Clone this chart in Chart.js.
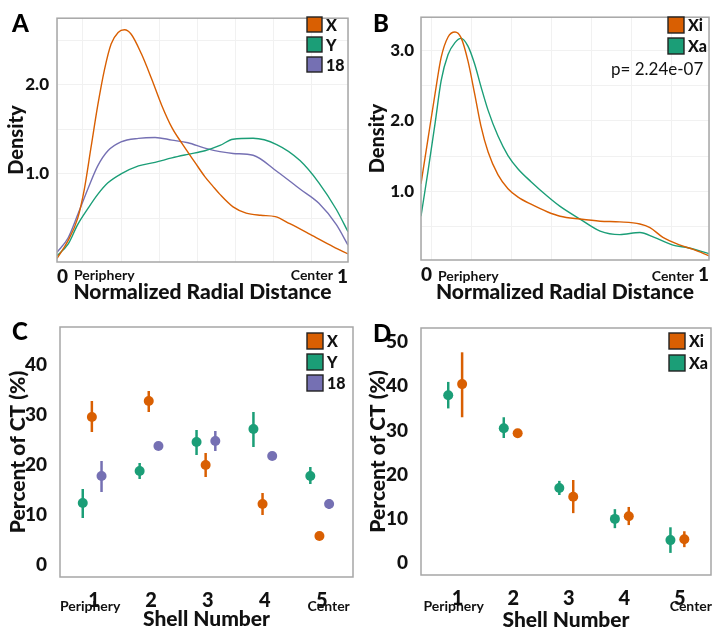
<!DOCTYPE html>
<html>
<head>
<meta charset="utf-8">
<script src="https://cdn.jsdelivr.net/npm/chart.js@4.4.1/dist/chart.umd.min.js"></script>
<style>
  body { margin: 0; background: #fff; }
  #fig { position: relative; width: 722px; height: 635px; overflow: hidden; font-family: Lato, sans-serif; }
  #fig canvas { position: absolute; }
  .tag { position: absolute; font-weight: 900; font-size: 24px; line-height: 24px; color: #000; }
</style>
</head>
<body>
<div id="fig">
  <canvas id="chartA" width="361" height="310" style="left:0;top:0"></canvas>
  <canvas id="chartB" width="361" height="310" style="left:361px;top:0"></canvas>
  <canvas id="chartC" width="361" height="325" style="left:0;top:310px"></canvas>
  <canvas id="chartD" width="361" height="325" style="left:361px;top:310px"></canvas>
  <div class="tag" style="left:12px;top:11px">A</div>
  <div class="tag" style="left:373px;top:11px">B</div>
  <div class="tag" style="left:12px;top:319px">C</div>
  <div class="tag" style="left:373px;top:321px">D</div>
</div>
<script>
// colours (Dark2)
const ORANGE = '#d95f02', GREEN = '#1b9e77', PURPLE = '#7570b3'
const FONT = 'Lato'
const HEAVY = '900'
Chart.defaults.font.family = FONT

// ---- panel A: density of X, Y, 18 along normalized radial distance
const aX_t = [0, 0.038, 0.071, 0.094, 0.117, 0.14, 0.163, 0.186, 0.21, 0.232, 0.255, 0.29, 0.325, 0.36, 0.395, 0.43, 0.474, 0.508, 0.536, 0.56, 0.605, 0.65, 0.7, 0.75, 0.8, 0.87, 0.95, 1]
const aX_y = [0.05, 0.25, 0.5, 0.83, 1.3, 1.77, 2.17, 2.46, 2.59, 2.62, 2.57, 2.35, 2.07, 1.77, 1.52, 1.34, 1.13, 0.97, 0.86, 0.77, 0.63, 0.56, 0.535, 0.52, 0.44, 0.32, 0.18, 0.1]
const aYt = [0, 0.038, 0.071, 0.106, 0.14, 0.175, 0.22, 0.28, 0.337, 0.395, 0.45, 0.508, 0.56, 0.605, 0.674, 0.755, 0.835, 0.9, 0.96, 1]
const aY_y = [0.08, 0.21, 0.43, 0.61, 0.77, 0.9, 1.0, 1.09, 1.13, 1.18, 1.22, 1.26, 1.32, 1.39, 1.4, 1.33, 1.15, 0.9, 0.6, 0.35]
const a18_y = [0.12, 0.28, 0.54, 0.83, 1.09, 1.26, 1.36, 1.4, 1.41, 1.38, 1.35, 1.29, 1.25, 1.23, 1.21, 1.03, 0.83, 0.67, 0.43, 0.2]

// ---- panel B: density of Xi and Xa
const bXi_t = [0, 0.024, 0.049, 0.07, 0.094, 0.118, 0.139, 0.163, 0.186, 0.208, 0.233, 0.267, 0.302, 0.337, 0.382, 0.44, 0.483, 0.552, 0.622, 0.69, 0.76, 0.795, 0.84, 0.9, 0.945, 1]
const bXi_y = [1.11, 1.74, 2.39, 2.9, 3.19, 3.26, 3.18, 2.85, 2.39, 1.93, 1.56, 1.24, 1.04, 0.92, 0.82, 0.71, 0.65, 0.61, 0.58, 0.57, 0.54, 0.49, 0.35, 0.24, 0.18, 0.09]
const bXa_t = [0, 0.024, 0.049, 0.07, 0.094, 0.118, 0.139, 0.163, 0.186, 0.208, 0.233, 0.267, 0.302, 0.337, 0.382, 0.44, 0.483, 0.552, 0.622, 0.69, 0.76, 0.81, 0.875, 0.92, 1]
const bXa_y = [0.65, 1.28, 1.97, 2.57, 2.94, 3.11, 3.17, 3.06, 2.81, 2.49, 2.15, 1.79, 1.51, 1.32, 1.14, 0.93, 0.79, 0.61, 0.44, 0.39, 0.42, 0.35, 0.24, 0.21, 0.12]
const bNote = 'p= 2.24e-07'

// ---- panels C, D: percent of CT per shell (mean, lower, upper)
const shells = [1, 2, 3, 4, 5]
const cX = [29.6, 32.8, 20.0, 12.2, 5.8]
const cX_lo = [26.6, 30.6, 17.6, 10.0, 5.4]
const cX_hi = [32.8, 34.8, 22.4, 14.4, 6.2]
const cY = [12.4, 18.8, 24.6, 27.2, 17.8]
const cY_lo = [9.4, 17.2, 22.0, 23.6, 16.2]
const cY_hi = [15.2, 20.4, 27.0, 30.6, 19.6]
const c18 = [17.8, 23.8, 24.8, 21.8, 12.2]
const c18_lo = [14.6, 23.5, 22.8, 21.5, 11.2]
const c18_hi = [20.8, 24.1, 26.8, 22.1, 13.2]

const dXi = [40.5, 29.4, 15.0, 10.6, 5.4]
const dXi_lo = [33.0, 29.1, 11.3, 8.6, 3.6]
const dXi_hi = [47.7, 29.7, 18.8, 12.7, 7.2]
const dXa = [38.0, 30.5, 17.0, 10.0, 5.2]
const dXa_lo = [35.0, 28.3, 15.4, 7.9, 2.3]
const dXa_hi = [41.0, 33.0, 18.6, 12.2, 8.1]

// faint vertical grid positions of the density panels
const gridA = [0.089, 0.22, 0.351, 0.482, 0.613, 0.744, 0.875]
const gridB = [0.035, 0.174, 0.313, 0.452, 0.591, 0.73, 0.869]


// plot box around chart area
const framePlugin = {
    id: 'frame',
    afterDatasetsDraw(chart) {
        const a = chart.chartArea, ctx = chart.ctx
        ctx.save()
        ctx.strokeStyle = '#a6a6a6'
        ctx.lineWidth = 1.5
        ctx.strokeRect(a.left, a.top, a.right - a.left, a.bottom - a.top)
        ctx.restore()
    }
}

// legend with square keys inside the plot
const boxLegend = {
    id: 'boxLegend',
    afterDraw(chart, args, o) {
        const ctx = chart.ctx
        ctx.save()
        chart.data.datasets.forEach((ds, i) => {
            const y = o.y + i * o.gap
            ctx.fillStyle = ds.borderColor
            ctx.fillRect(o.x, y, o.size, o.size)
            ctx.strokeStyle = '#222'
            ctx.lineWidth = 1.4
            ctx.strokeRect(o.x, y, o.size, o.size)
            ctx.fillStyle = '#111'
            ctx.font = HEAVY + ' 16px ' + FONT
            ctx.textBaseline = 'middle'
            ctx.textAlign = 'left'
            ctx.fillText(ds.label, o.x + o.size + 4, y + o.size / 2 + 1)
        })
        ctx.restore()
    }
}

// "Periphery" / "Center" under the x axis
const sideLabels = {
    id: 'sideLabels',
    afterDraw(chart, args, o) {
        const ctx = chart.ctx, xs = chart.scales.x
        ctx.save()
        ctx.fillStyle = '#111'
        ctx.font = 'bold 14px ' + FONT
        ctx.textBaseline = 'middle'
        o.items.forEach(it => {
            ctx.textAlign = it.align
            ctx.fillText(it.text, xs.getPixelForValue(it.at) + it.dx, o.y)
        })
        ctx.restore()
    }
}

const notePlugin = {
    id: 'note',
    afterDraw(chart, args, o) {
        if (!o.text) return
        const ctx = chart.ctx
        ctx.save()
        ctx.fillStyle = '#111'
        ctx.font = '17px ' + FONT
        ctx.textBaseline = 'middle'
        ctx.fillText(o.text, o.x, o.y)
        ctx.restore()
    }
}

// vertical error bars from lo/hi of each point
const errorBars = {
    id: 'errorBars',
    beforeDatasetsDraw(chart) {
        const ctx = chart.ctx, ys = chart.scales.y
        ctx.save()
        ctx.lineWidth = 2.5
        chart.data.datasets.forEach((ds, i) => {
            const meta = chart.getDatasetMeta(i)
            ctx.strokeStyle = ds.borderColor
            meta.data.forEach((pt, j) => {
                const d = ds.data[j]
                ctx.beginPath()
                ctx.moveTo(pt.x, ys.getPixelForValue(d.lo))
                ctx.lineTo(pt.x, ys.getPixelForValue(d.hi))
                ctx.stroke()
            })
        })
        ctx.restore()
    }
}

function font(size, weight) {
    return { family: FONT, size: size, weight: weight || HEAVY }
}

function densityChart(id, series, L) {
    return new Chart(document.getElementById(id), {
        type: 'line',
        data: {
            datasets: series.map(s => ({
                label: s.label,
                data: s.t.map((t, i) => ({ x: t, y: s.y[i] })),
                borderColor: s.color,
                backgroundColor: s.color,
                borderWidth: 1.4,
                pointRadius: 0,
                cubicInterpolationMode: 'monotone',
                fill: false
            }))
        },
        options: {
            responsive: false,
            animation: false,
            events: [],
            layout: { padding: L.pad },
            scales: {
                x: {
                    type: 'linear', min: 0, max: 1,
                    afterBuildTicks: s => { s.ticks = [0, ...L.grid, 1].map(v => ({ value: v })) },
                    afterFit: s => { s.height = L.xh },
                    grid: { color: '#f1f1f1', drawTicks: false },
                    border: { display: false },
                    ticks: {
                        align: 'inner', padding: 3, maxRotation: 0, autoSkip: false,
                        color: '#111', font: font(19),
                        callback: v => (v === 0 || v === 1) ? String(v) : ''
                    },
                    title: { display: true, text: 'Normalized Radial Distance', color: '#111', font: font(21), padding: { top: 0, bottom: 5 } }
                },
                y: {
                    min: L.ymin, max: L.ymax,
                    afterBuildTicks: s => { s.ticks = L.yticks.map(v => ({ value: v })) },
                    afterFit: s => { s.width = L.yw },
                    grid: { color: '#f1f1f1', drawTicks: false },
                    border: { display: false },
                    ticks: {
                        padding: L.ypad, color: '#111', font: font(17),
                        callback: v => Number.isInteger(v) ? v.toFixed(1) : ''
                    },
                    title: { display: true, text: 'Density', color: '#111', font: font(20), padding: { top: 5, bottom: 0 } }
                }
            },
            plugins: {
                legend: { display: false },
                tooltip: { enabled: false },
                boxLegend: L.legend,
                sideLabels: {
                    y: L.sideY,
                    items: [
                        { text: 'Periphery', at: 0, dx: 17, align: 'left' },
                        { text: 'Center', at: 1, dx: -15, align: 'right' }
                    ]
                },
                note: L.note || {}
            }
        },
        plugins: [framePlugin, boxLegend, sideLabels, notePlugin]
    })
}

function dotChart(id, series, L) {
    return new Chart(document.getElementById(id), {
        type: 'scatter',
        data: {
            datasets: series.map(s => ({
                label: s.label,
                data: shells.map((sh, i) => ({ x: sh + s.dodge, y: s.y[i], lo: s.lo[i], hi: s.hi[i] })),
                borderColor: s.color,
                backgroundColor: s.color,
                pointRadius: 5,
                pointBorderWidth: 0
            }))
        },
        options: {
            responsive: false,
            animation: false,
            events: [],
            layout: { padding: L.pad },
            scales: {
                x: {
                    type: 'linear', min: L.xmin, max: L.xmax,
                    afterBuildTicks: s => { s.ticks = shells.map(v => ({ value: v })) },
                    afterFit: s => { s.height = L.xh },
                    grid: { display: false },
                    border: { display: false },
                    ticks: { padding: 4, maxRotation: 0, color: '#111', font: font(20) },
                    title: { display: true, text: 'Shell Number', color: '#111', font: font(21), padding: { top: 0, bottom: L.xtpad } }
                },
                y: {
                    min: L.ymin, max: L.ymax,
                    afterBuildTicks: s => { s.ticks = L.yticks.map(v => ({ value: v })) },
                    afterFit: s => { s.width = L.yw },
                    grid: { display: false },
                    border: { display: false },
                    ticks: { padding: 5, color: '#111', font: font(19) },
                    title: { display: true, text: 'Percent of CT (%)', color: '#111', font: font(21), padding: { top: L.ytpad, bottom: 0 } }
                }
            },
            plugins: {
                legend: { display: false },
                tooltip: { enabled: false },
                boxLegend: L.legend,
                sideLabels: {
                    y: L.sideY,
                    items: [
                        { text: 'Periphery', at: 1, dx: -4, align: 'center' },
                        { text: 'Center', at: 5, dx: L.centerDx, align: 'center' }
                    ]
                }
            }
        },
        plugins: [errorBars, framePlugin, boxLegend, sideLabels]
    })
}

densityChart('chartA', [
    { label: 'X', t: aX_t, y: aX_y, color: ORANGE },
    { label: 'Y', t: aYt, y: aY_y, color: GREEN },
    { label: '18', t: aYt, y: a18_y, color: PURPLE }
], {
    pad: { left: 0, right: 13, top: 10, bottom: 0 }, yw: 57, xh: 48, ypad: 8,
    ymin: 0.01, ymax: 2.75, yticks: [0.5, 1, 1.5, 2, 2.5], grid: gridA,
    legend: { x: 307, y: 17, size: 15, gap: 20 }, sideY: 275
})

densityChart('chartB', [
    { label: 'Xi', t: bXi_t, y: bXi_y, color: ORANGE },
    { label: 'Xa', t: bXa_t, y: bXa_y, color: GREEN }
], {
    pad: { left: 0, right: 13, top: 11, bottom: 0 }, yw: 60, xh: 50, ypad: 7,
    ymin: 0.03, ymax: 3.47, yticks: [0.5, 1, 1.5, 2, 2.5, 3], grid: gridB,
    legend: { x: 307, y: 17, size: 16, gap: 21 }, sideY: 276,
    note: { text: bNote, x: 250, y: 70 }
})

dotChart('chartC', [
    { label: 'X', y: cX, lo: cX_lo, hi: cX_hi, color: ORANGE, dodge: -0.04 },
    { label: 'Y', y: cY, lo: cY_lo, hi: cY_hi, color: GREEN, dodge: -0.2 },
    { label: '18', y: c18, lo: c18_lo, hi: c18_hi, color: PURPLE, dodge: 0.13 }
], {
    pad: { left: 0, right: 8, top: 17, bottom: 0 }, yw: 60, xh: 58, xtpad: 3, ytpad: 6,
    xmin: 0.4, xmax: 5.55, ymin: -2.4, ymax: 47.6, yticks: [0, 10, 20, 30, 40],
    legend: { x: 307, y: 23, size: 16, gap: 21 }, sideY: 296, centerDx: 7
})

dotChart('chartD', [
    { label: 'Xi', y: dXi, lo: dXi_lo, hi: dXi_hi, color: ORANGE, dodge: 0.08 },
    { label: 'Xa', y: dXa, lo: dXa_lo, hi: dXa_hi, color: GREEN, dodge: -0.17 }
], {
    pad: { left: 0, right: 11, top: 18, bottom: 0 }, yw: 60, xh: 60, xtpad: 2, ytpad: 5,
    xmin: 0.34, xmax: 5.56, ymin: -2.7, ymax: 53.2, yticks: [0, 10, 20, 30, 40, 50],
    legend: { x: 308, y: 23, size: 16, gap: 22 }, sideY: 296, centerDx: 11
})
</script>
</body>
</html>
